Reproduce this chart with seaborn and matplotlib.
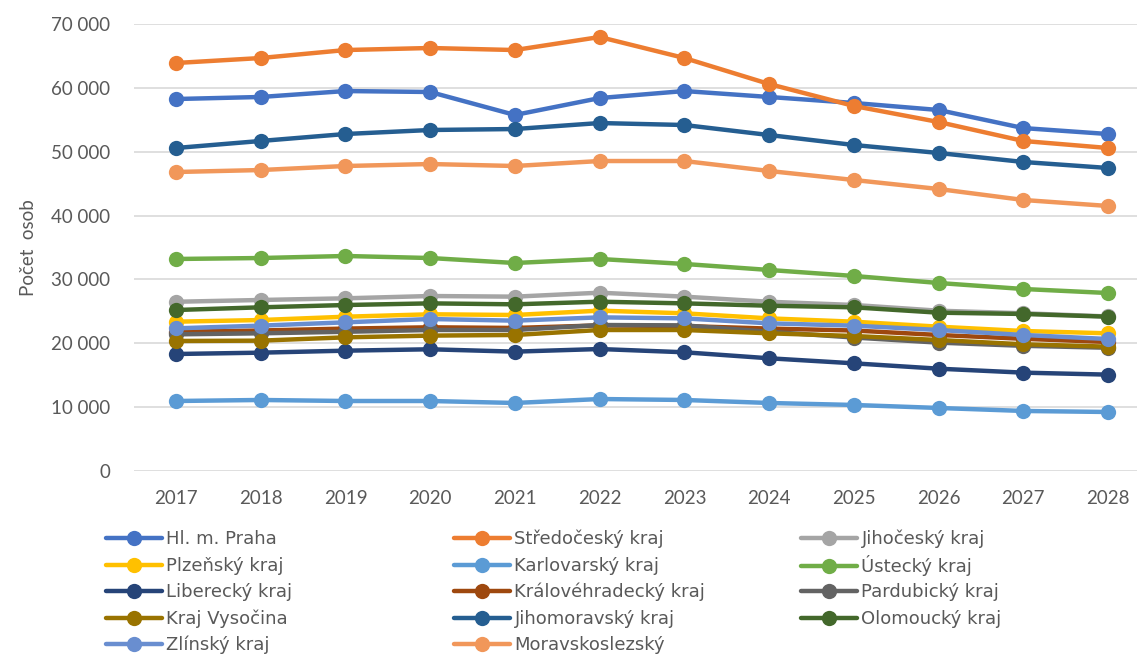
import pandas as pd
import matplotlib.pyplot as plt
import seaborn as sns
from matplotlib.ticker import FuncFormatter

years = list(range(2017, 2029))

kraje = ['Hl. m. Praha', 'Středočeský kraj', 'Jihočeský kraj', 'Plzeňský kraj',
         'Karlovarský kraj', 'Ústecký kraj', 'Liberecký kraj', 'Královéhradecký kraj',
         'Pardubický kraj', 'Kraj Vysočina', 'Jihomoravský kraj', 'Olomoucký kraj',
         'Zlínský kraj', 'Moravskoslezský']

praha = [58250, 58570, 59500, 59350, 55750, 58400, 59500, 58570, 57630, 56530, 53700, 52770]
stredocesky = [63890, 64670, 65920, 66240, 65920, 67960, 64670, 60600, 57160, 54650, 51680, 50580]
jihocesky = [26500, 26780, 27040, 27400, 27300, 27920, 27300, 26500, 26000, 25100, 24700, 24200]
plzensky = [23380, 23640, 24160, 24540, 24430, 25110, 24690, 23900, 23380, 22600, 21920, 21560]
karlovarsky = [10960, 11120, 10960, 10960, 10650, 11270, 11120, 10650, 10340, 9870, 9400, 9240]
ustecky = [33200, 33350, 33670, 33350, 32570, 33200, 32420, 31480, 30540, 29440, 28500, 27870]
liberecky = [18320, 18530, 18840, 19060, 18690, 19100, 18590, 17650, 16860, 16020, 15400, 15090]
kralovehradecky = [21800, 22000, 22300, 22500, 22400, 22800, 22700, 22300, 22000, 21300, 20700, 20200]
pardubicky = [21400, 21560, 21800, 22080, 22080, 22860, 22800, 21800, 20900, 20100, 19600, 19300]
vysocina = [20360, 20410, 20930, 21200, 21300, 22080, 22080, 21560, 21140, 20510, 19840, 19470]
jihomoravsky = [50580, 51680, 52770, 53400, 53550, 54490, 54180, 52610, 51050, 49800, 48390, 47450]
olomoucky = [25210, 25630, 25990, 26250, 26100, 26510, 26250, 25880, 25630, 24790, 24590, 24160]
zlinsky = [22340, 22760, 23280, 23800, 23540, 24060, 23900, 23120, 22760, 22080, 21300, 20670]
moravskoslezsky = [46820, 47130, 47760, 48070, 47760, 48540, 48540, 46980, 45570, 44160, 42440, 41500]

barvy = ['#4472C4', '#ED7D31', '#A5A5A5', '#FFC000', '#5B9BD5', '#70AD47', '#264478',
         '#9E480E', '#636363', '#997300', '#255E91', '#43682B', '#698ED0', '#F1975A']

serie = [praha, stredocesky, jihocesky, plzensky, karlovarsky, ustecky, liberecky,
         kralovehradecky, pardubicky, vysocina, jihomoravsky, olomoucky, zlinsky, moravskoslezsky]

rows = []
for name, vals in zip(kraje, serie):
    for y, v in zip(years, vals):
        rows.append({'rok': y, 'osoby': v, 'kraj': name})
df = pd.DataFrame(rows)

sns.set_style('white')
plt.rcParams['font.family'] = ['Lato', 'DejaVu Sans']

W, H = 1137, 659
fig = plt.figure(figsize=(W / 100, H / 100), dpi=100)
ax = fig.add_axes([0.1175, 0.2853, 0.8943, 0.6783])

sns.lineplot(data=df, x='rok', y='osoby', hue='kraj', hue_order=kraje, palette=barvy,
             marker='o', markersize=11, markeredgewidth=0, linewidth=3.2, ax=ax, legend=False)

ax.set_xlim(2016.5, 2028.5)
ax.set_ylim(0, 70000)
ax.set_xticks(years)
ax.set_xticklabels([str(y) for y in years])
ax.set_yticks(range(0, 70001, 10000))
ax.yaxis.set_major_formatter(FuncFormatter(lambda v, p: f'{int(v):,}'.replace(',', ' ')))
ax.grid(axis='y', color='#D9D9D9', linewidth=1.2)
ax.set_axisbelow(True)
for s in ax.spines.values():
    s.set_visible(False)
ax.tick_params(axis='both', length=0, labelsize=13.5, colors='#595959')
ax.tick_params(axis='x', pad=14)
ax.tick_params(axis='y', pad=17)
ax.set_xlabel('')
ax.set_ylabel('Počet  osob', fontsize=13.5, color='#595959', labelpad=10)

# legenda: 3 sloupce, plneno po radcich jako v Excelu
col_x = [106, 454, 801]
row_y = [539, 566, 592, 619, 645]
for i, (name, c) in enumerate(zip(kraje, barvy)):
    r, k = divmod(i, 3)
    h = plt.Line2D([], [], color=c, marker='o', markersize=11, markeredgewidth=0, linewidth=3.2)
    fig.legend([h], [name], loc='center left',
               bbox_to_anchor=(col_x[k] / W, 1 - row_y[r] / H), frameon=False,
               prop={'family': 'DejaVu Sans', 'size': 13}, labelcolor='#595959',
               handlelength=3.1, handletextpad=0.25, borderaxespad=0, borderpad=0)

fig.savefig('out.png', dpi=100)
